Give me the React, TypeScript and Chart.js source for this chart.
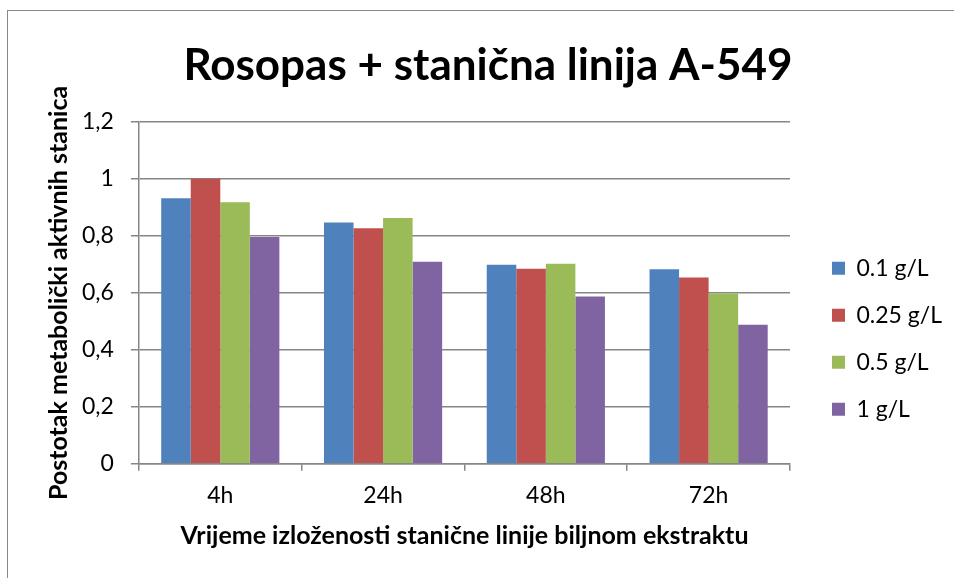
import React, { useEffect, useRef } from "react";
import { Chart, registerables } from "chart.js";

Chart.register(...registerables);

const categories = ["4h", "24h", "48h", "72h"];
const seriesNames = ["0.1 g/L", "0.25 g/L", "0.5 g/L", "1 g/L"];
const s01 = [0.932, 0.847, 0.699, 0.683];
const s025 = [1.001, 0.827, 0.685, 0.654];
const s05 = [0.918, 0.863, 0.702, 0.598];
const s1 = [0.796, 0.709, 0.587, 0.488];
const yTickLabels = ["0", "0,2", "0,4", "0,6", "0,8", "1", "1,2"];
const colors = ["#4F81BD", "#C0504D", "#9BBB59", "#8064A2"];
const titleText = "Rosopas + stanična linija A-549";
const xTitle = "Vrijeme izloženosti stanične linije biljnom ekstraktu";
const yTitle = "Postotak metabolički aktivnih stanica";

const FONT = "Lato, 'Open Sans', sans-serif";

export default function App() {
  const ref = useRef<HTMLCanvasElement>(null);
  useEffect(() => {
    if (!ref.current) return;
    const values = [s01, s025, s05, s1];
    const chart = new Chart(ref.current, {
      type: "bar",
      data: {
        labels: categories,
        datasets: values.map((v, i) => ({
          label: seriesNames[i],
          data: v,
          backgroundColor: colors[i],
          borderWidth: 0,
          categoryPercentage: 0.726,
          barPercentage: 1,
        })),
      },
      options: {
        animation: false,
        responsive: false,
        maintainAspectRatio: false,
        layout: { padding: { left: 24, top: 10, right: 2, bottom: 22.6 } },
        plugins: {
          tooltip: { enabled: false },
          title: {
            display: true,
            text: titleText,
            color: "#000",
            font: { family: FONT, size: 44, weight: "bold" },
            padding: { top: 29.6, bottom: 29.6 },
          },
          legend: {
            position: "right",
            title: {
              display: true,
              text: " ",
              font: { family: FONT, size: 10 },
              padding: { top: 100, bottom: 0 },
            },
            labels: {
              boxWidth: 13,
              boxHeight: 13,
              padding: 24,
              color: "#000",
              font: { family: FONT, size: 23 },
            },
          },
        },
        scales: {
          x: {
            grid: {
              offset: true,
              drawOnChartArea: false,
              drawTicks: true,
              tickLength: 7,
              color: "#868686",
              lineWidth: 1.5,
            },
            border: { color: "#868686", width: 1.5 },
            ticks: { color: "#000", padding: 11, font: { family: FONT, size: 23 } },
            title: {
              display: true,
              text: xTitle,
              color: "#000",
              font: { family: FONT, size: 25, weight: "bold" },
              padding: { top: 1, bottom: 4 },
            },
          },
          y: {
            min: 0,
            max: 1.2,
            grid: { color: "#868686", lineWidth: 1.5, tickLength: 8 },
            border: { color: "#868686", width: 1.5 },
            ticks: {
              stepSize: 0.2,
              color: "#000",
              padding: 17,
              font: { family: FONT, size: 23 },
              callback: (_v: any, i: number) => yTickLabels[i],
            },
            title: {
              display: true,
              text: yTitle,
              color: "#000",
              font: { family: FONT, size: 25, weight: "bold" },
              padding: { top: 20, bottom: -9 },
            },
          },
          gap: {
            type: "linear",
            position: "right",
            display: true,
            grid: { display: false },
            ticks: { display: false },
            border: { display: false },
            afterFit: (s: any) => {
              s.width = 18;
            },
          } as any,
        },
      },
    });
    return () => chart.destroy();
  }, []);
  return (
    <div style={{ position: "absolute", left: 0, top: 0, width: 954, height: 578, overflow: "hidden", background: "#fff" }}>
      <canvas ref={ref} width={954} height={578} style={{ position: "absolute", left: 0, top: 0 }} />
      <div
        style={{
          position: "absolute",
          left: 7,
          top: 10,
          width: 1000,
          height: 1000,
          border: "1.5px solid #888",
          pointerEvents: "none",
        }}
      />
    </div>
  );
}
